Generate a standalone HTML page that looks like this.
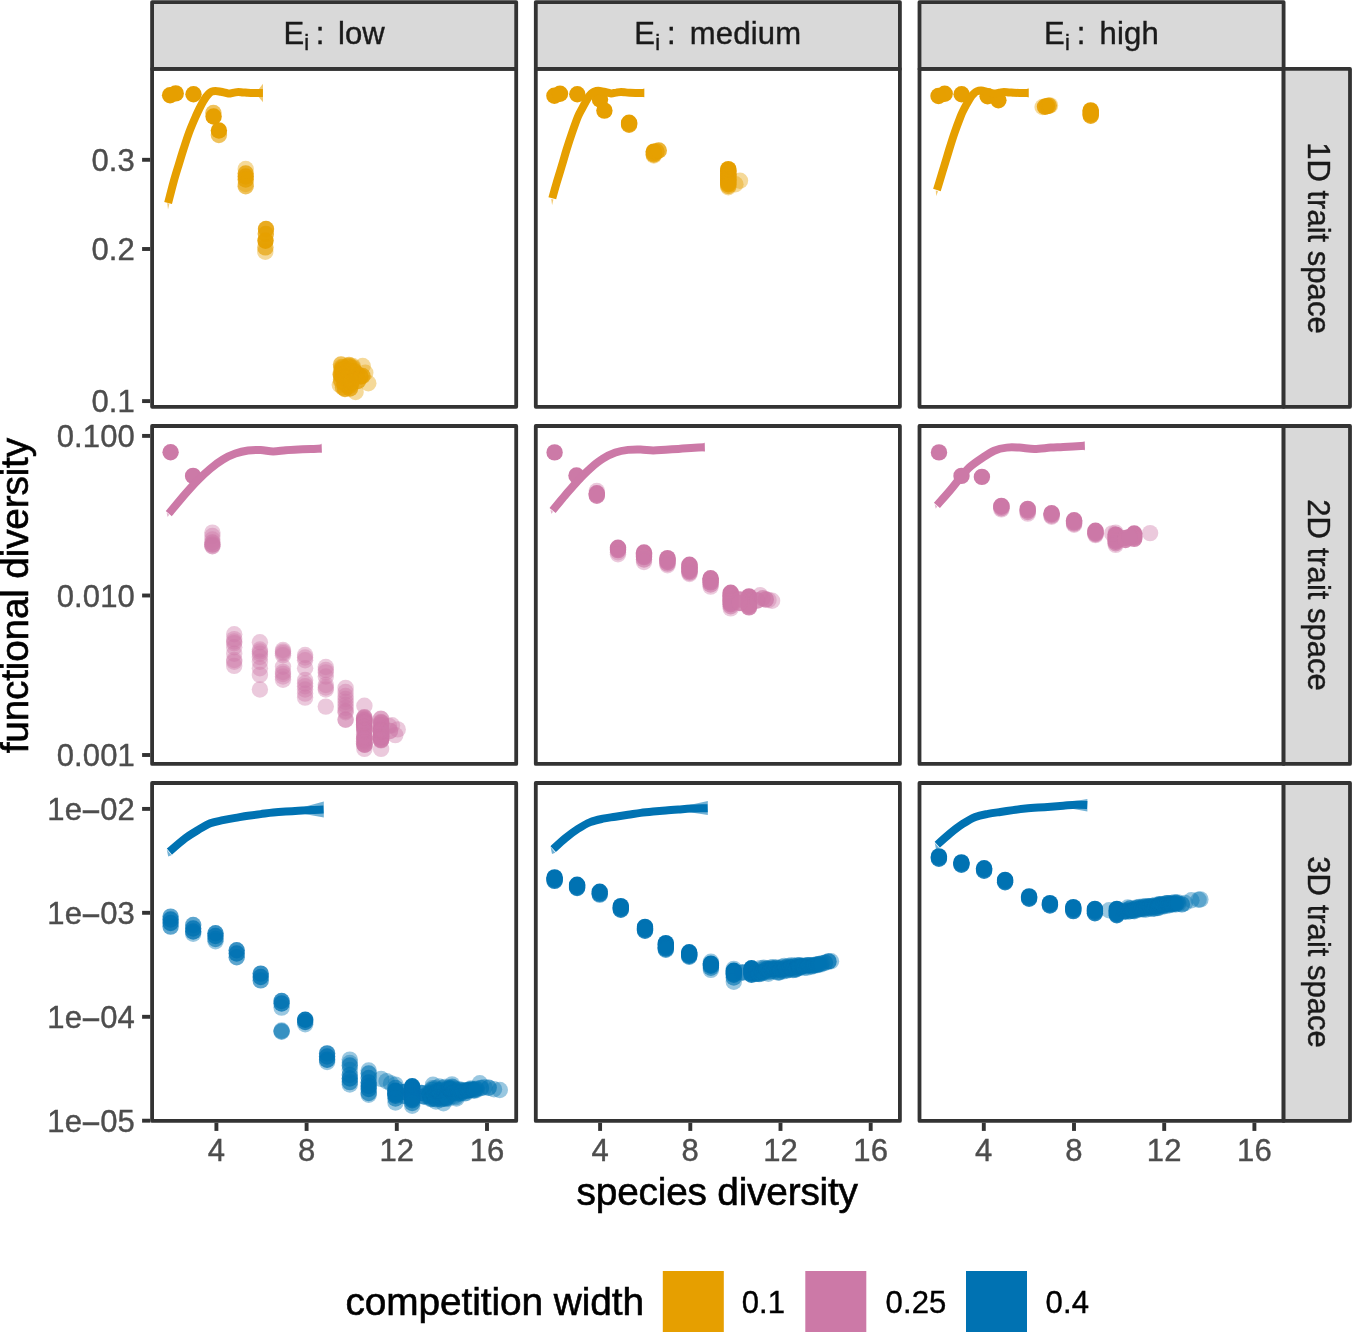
<!DOCTYPE html>
<html lang="en">
<head>
<meta charset="utf-8">
<title>Functional diversity vs species diversity</title>
<style>
html,body{margin:0;padding:0;background:#fff;}
body{width:1352px;height:1332px;overflow:hidden;}
svg{display:block;}
text{font-family:"Liberation Sans", sans-serif;}
</style>
</head>
<body>
<svg width="1352" height="1332" viewBox="0 0 1352 1332" font-family='"Liberation Sans", sans-serif'>
<rect width="1352" height="1332" fill="#fff"/>
<g>
<polygon points="258.5,89.5 263,83.8 263,102.2 258.5,96.7" fill="#E69F00" fill-opacity="0.55"/>
<polygon points="167.2,203 169.4,203.7 168,209.5" fill="#E69F00" fill-opacity="0.55"/>
<g fill="#E69F00" fill-opacity="0.4"><circle cx="170.1" cy="95.3" r="8.2" fill-opacity="0.998"/><circle cx="175.7" cy="93.4" r="8.2" fill-opacity="0.998"/><circle cx="193.5" cy="94.3" r="8.2" fill-opacity="0.998"/><circle cx="213.4" cy="113" r="8.2" fill-opacity="0.640"/><circle cx="213.6" cy="116.5" r="8.2" fill-opacity="0.990"/><circle cx="218.9" cy="130.5" r="8.2" fill-opacity="0.990"/><circle cx="218.9" cy="135" r="8.2" fill-opacity="0.640"/><circle cx="245.7" cy="169" r="8.2"/><circle cx="245.7" cy="173.5" r="8.2" fill-opacity="0.784"/><circle cx="245.7" cy="176.5" r="8.2" fill-opacity="0.870"/><circle cx="245.7" cy="179.5" r="8.2" fill-opacity="0.784"/><circle cx="245.7" cy="184" r="8.2"/><circle cx="245.7" cy="186.2" r="8.2" fill-opacity="0.640"/><circle cx="266" cy="229" r="8.2" fill-opacity="0.870"/><circle cx="265.8" cy="234" r="8.2" fill-opacity="0.784"/><circle cx="265.5" cy="240.8" r="8.2" fill-opacity="0.953"/><circle cx="265.4" cy="247.4" r="8.2" fill-opacity="0.640"/><circle cx="265.3" cy="251.7" r="8.2"/><circle cx="362.7" cy="366" r="8.2"/><circle cx="365.3" cy="372.8" r="8.2"/><circle cx="368.3" cy="383.3" r="8.2"/><circle cx="355.6" cy="392" r="8.2"/><circle cx="339.8" cy="385" r="8.2"/><circle cx="341" cy="364.5" r="8.2" fill-opacity="0.640"/><circle cx="349" cy="365" r="8.2" fill-opacity="0.640"/><circle cx="357" cy="374" r="8.2" fill-opacity="0.870"/><circle cx="360.5" cy="376.5" r="8.2" fill-opacity="0.870"/><circle cx="362.5" cy="376" r="8.2" fill-opacity="0.784"/><circle cx="358" cy="381" r="8.2" fill-opacity="0.784"/><circle cx="354" cy="371" r="8.2" fill-opacity="0.784"/><circle cx="345" cy="389" r="8.2" fill-opacity="0.784"/><circle cx="350" cy="388.5" r="8.2" fill-opacity="0.784"/><circle cx="343" cy="387.5" r="8.2" fill-opacity="0.640"/><circle cx="344.5" cy="368.2" r="8.2"/><circle cx="348.6" cy="366.6" r="8.2"/><circle cx="347.2" cy="372.9" r="8.2"/><circle cx="341.2" cy="375.9" r="8.2"/><circle cx="341" cy="374.3" r="8.2"/><circle cx="341.4" cy="367" r="8.2"/><circle cx="345.8" cy="382.8" r="8.2"/><circle cx="342" cy="369.8" r="8.2"/><circle cx="348.3" cy="385.4" r="8.2"/><circle cx="347.7" cy="373.5" r="8.2"/><circle cx="352.7" cy="366" r="8.2"/><circle cx="351.2" cy="371.2" r="8.2"/><circle cx="342.3" cy="367.5" r="8.2"/><circle cx="344.4" cy="382.5" r="8.2"/><circle cx="342.8" cy="377.5" r="8.2"/><circle cx="348.5" cy="373" r="8.2"/><circle cx="347.3" cy="366.3" r="8.2"/><circle cx="341.2" cy="369.4" r="8.2"/><circle cx="349" cy="374.2" r="8.2"/><circle cx="344.4" cy="377.6" r="8.2"/><circle cx="346.2" cy="371.4" r="8.2"/><circle cx="350.4" cy="380" r="8.2"/><circle cx="343.6" cy="377.4" r="8.2"/><circle cx="347.1" cy="383.8" r="8.2"/><circle cx="349.6" cy="371.2" r="8.2"/><circle cx="352.8" cy="367.5" r="8.2"/><circle cx="345.7" cy="381.3" r="8.2"/><circle cx="342.4" cy="375.5" r="8.2"/><circle cx="341" cy="379.4" r="8.2"/><circle cx="350.1" cy="377.3" r="8.2"/><circle cx="351.4" cy="371.7" r="8.2"/><circle cx="349.2" cy="377.8" r="8.2"/><circle cx="347.7" cy="374.8" r="8.2"/><circle cx="351" cy="385.3" r="8.2"/><circle cx="346.4" cy="379.3" r="8.2"/><circle cx="341.3" cy="380.1" r="8.2"/><circle cx="348.6" cy="386.4" r="8.2"/><circle cx="350.8" cy="371.1" r="8.2"/><circle cx="345.3" cy="379.4" r="8.2"/><circle cx="340.8" cy="374.9" r="8.2"/><circle cx="342.6" cy="367.5" r="8.2"/><circle cx="341.2" cy="381.5" r="8.2"/><circle cx="342.1" cy="370.3" r="8.2"/><circle cx="345.4" cy="383.7" r="8.2"/><circle cx="341.5" cy="374.7" r="8.2"/><circle cx="347.4" cy="384" r="8.2"/><circle cx="350.7" cy="383.6" r="8.2"/><circle cx="344" cy="373.9" r="8.2"/><circle cx="345" cy="384" r="8.2"/><circle cx="352.5" cy="368.2" r="8.2"/><circle cx="342.7" cy="370" r="8.2"/><circle cx="343.4" cy="375.4" r="8.2"/><circle cx="347.9" cy="370.6" r="8.2"/><circle cx="340.6" cy="374" r="8.2"/><circle cx="345.1" cy="377.2" r="8.2"/><circle cx="352.4" cy="379.8" r="8.2"/><circle cx="346.9" cy="378.3" r="8.2"/><circle cx="349" cy="366.2" r="8.2"/><circle cx="351.7" cy="381.8" r="8.2"/><circle cx="351.4" cy="382.2" r="8.2"/></g>
<path d="M168.1 203.1C169 199.7 171.7 188.8 173.4 182.6C175.1 176.4 176.6 171.6 178.3 166.1C180 160.6 181.6 155 183.4 149.5C185.2 144 186.9 138.5 188.9 133C190.9 127.5 193.9 120.6 195.7 116.5C197.5 112.4 198.2 110.8 199.5 108.3C200.8 105.8 202.2 103.2 203.3 101.3C204.4 99.4 205.2 98.2 206.1 96.9C207 95.6 208 94.5 208.9 93.6C209.8 92.7 210.5 92.2 211.6 91.7C212.7 91.2 213.9 90.9 215.5 90.9C217.1 90.9 218.9 91.4 221 91.8C223.1 92.2 226.2 93.2 228.3 93.4C230.4 93.6 231.8 92.9 233.5 92.7C235.2 92.5 236.7 92 238.3 92C239.9 92 241.4 92.3 243 92.4C244.6 92.5 246 92.7 247.7 92.8C249.4 92.9 251.2 93 253 93C254.8 93 257.2 93.1 258.8 93.1C260.4 93.1 262.2 93.1 262.9 93.1" fill="none" stroke="#E69F00" stroke-width="8.0" stroke-linejoin="round"/>
<rect x="152.1" y="68.9" width="364.1" height="337.9" fill="none" stroke="#333333" stroke-width="3.8" stroke-linejoin="round"/>
</g>
<g>
<polygon points="642,89.4 644.3,88 644.3,97.4 642,96.6" fill="#E69F00" fill-opacity="0.55"/>
<polygon points="551.2,198.9 553.4,199.6 552.1,205.3" fill="#E69F00" fill-opacity="0.55"/>
<g fill="#E69F00" fill-opacity="0.4"><circle cx="554.4" cy="95.7" r="8.2" fill-opacity="0.998"/><circle cx="560" cy="93.8" r="8.2" fill-opacity="0.998"/><circle cx="577.3" cy="94.3" r="8.2" fill-opacity="0.998"/><circle cx="600" cy="99.4" r="8.2" fill-opacity="0.998"/><circle cx="604.4" cy="110.6" r="8.2" fill-opacity="0.998"/><circle cx="629.1" cy="122.7" r="8.2" fill-opacity="0.983"/><circle cx="629.1" cy="123.7" r="8.2" fill-opacity="0.870"/><circle cx="629.1" cy="124.7" r="8.2" fill-opacity="0.870"/><circle cx="653.8" cy="151.6" r="8.2" fill-opacity="0.972"/><circle cx="653.8" cy="153.1" r="8.2" fill-opacity="0.784"/><circle cx="653.8" cy="154.5" r="8.2" fill-opacity="0.784"/><circle cx="653.8" cy="155.5" r="8.2"/><circle cx="656.5" cy="151.5" r="8.2" fill-opacity="0.784"/><circle cx="658.8" cy="150.5" r="8.2" fill-opacity="0.784"/><circle cx="728.3" cy="169.1" r="8.2" fill-opacity="0.983"/><circle cx="728.3" cy="170.4" r="8.2" fill-opacity="0.870"/><circle cx="728.3" cy="171.6" r="8.2" fill-opacity="0.870"/><circle cx="728.3" cy="172.9" r="8.2" fill-opacity="0.870"/><circle cx="728.3" cy="174.2" r="8.2" fill-opacity="0.870"/><circle cx="728.3" cy="175.4" r="8.2" fill-opacity="0.870"/><circle cx="728.3" cy="176.7" r="8.2" fill-opacity="0.870"/><circle cx="728.3" cy="178" r="8.2" fill-opacity="0.870"/><circle cx="728.3" cy="179.2" r="8.2" fill-opacity="0.870"/><circle cx="728.3" cy="180.5" r="8.2" fill-opacity="0.870"/><circle cx="728.3" cy="181.8" r="8.2" fill-opacity="0.870"/><circle cx="728.3" cy="183" r="8.2" fill-opacity="0.870"/><circle cx="728.3" cy="184.3" r="8.2" fill-opacity="0.870"/><circle cx="728.3" cy="186" r="8.2" fill-opacity="0.640"/><circle cx="728.3" cy="187.3" r="8.2"/><circle cx="740" cy="180.7" r="8.2"/><circle cx="735.4" cy="184.3" r="8.2"/></g>
<path d="M552.3 198.3C553 195.7 555.1 188 556.7 182.6C558.3 177.2 560.1 171.6 561.7 166.1C563.4 160.6 564.9 155 566.6 149.5C568.3 144 570.1 138.5 572 133C573.9 127.5 576.3 120.6 578 116.5C579.7 112.4 580.9 110.8 582.2 108.3C583.5 105.8 584.9 103.2 586 101.2C587.1 99.2 587.9 97.9 588.8 96.6C589.7 95.3 590.5 94.4 591.4 93.6C592.3 92.8 593.1 92.1 594.2 91.6C595.4 91.1 596.7 90.8 598.3 90.8C599.9 90.8 601.9 91.4 604 91.8C606.1 92.2 609.1 93.3 611.1 93.4C613.1 93.5 614.6 92.8 616.3 92.6C617.9 92.3 619.5 91.9 621 91.9C622.5 91.9 624 92.2 625.5 92.4C627 92.6 628.2 92.7 629.9 92.8C631.6 92.9 633.6 92.9 635.5 92.9C637.4 92.9 639.5 93 641 93C642.5 93 643.7 93 644.2 93" fill="none" stroke="#E69F00" stroke-width="8.0" stroke-linejoin="round"/>
<rect x="535.8" y="68.9" width="364.1" height="337.9" fill="none" stroke="#333333" stroke-width="3.8" stroke-linejoin="round"/>
</g>
<g>
<polygon points="1026,89.4 1028.7,87.7 1028.7,97.7 1026,96.6" fill="#E69F00" fill-opacity="0.55"/>
<polygon points="935.8,190.6 938,191.3 936.2,196.3" fill="#E69F00" fill-opacity="0.55"/>
<g fill="#E69F00" fill-opacity="0.4"><circle cx="938.5" cy="96" r="8.2" fill-opacity="0.998"/><circle cx="944.7" cy="93.8" r="8.2" fill-opacity="0.998"/><circle cx="961.6" cy="94.3" r="8.2" fill-opacity="0.998"/><circle cx="987.6" cy="96.2" r="8.2" fill-opacity="0.998"/><circle cx="998.4" cy="100.2" r="8.2" fill-opacity="0.998"/><circle cx="1042.6" cy="107" r="8.2"/><circle cx="1045" cy="106.7" r="8.2" fill-opacity="0.922"/><circle cx="1047" cy="106.1" r="8.2" fill-opacity="0.922"/><circle cx="1048.8" cy="105.6" r="8.2" fill-opacity="0.784"/><circle cx="1050" cy="105.4" r="8.2"/><circle cx="1090.7" cy="110.4" r="8.2" fill-opacity="0.983"/><circle cx="1090.7" cy="111.8" r="8.2" fill-opacity="0.870"/><circle cx="1090.7" cy="113.1" r="8.2" fill-opacity="0.870"/><circle cx="1090.7" cy="114.5" r="8.2" fill-opacity="0.870"/><circle cx="1090.7" cy="115.8" r="8.2" fill-opacity="0.870"/></g>
<path d="M936.9 190C937.3 188.8 938 186.6 939.2 182.6C940.4 178.6 942.5 171.6 944.2 166.1C945.9 160.6 947.5 155 949.2 149.5C950.9 144 952.6 138.5 954.5 133C956.4 127.5 959 120.6 960.6 116.5C962.2 112.4 963.1 110.9 964.4 108.3C965.7 105.7 967.3 103 968.5 101C969.7 99 970.5 97.6 971.4 96.3C972.3 95 973.1 94.2 974 93.4C974.9 92.6 975.6 91.9 976.8 91.4C978 90.9 979.5 90.5 981.2 90.6C982.9 90.7 984.9 91.4 987 91.9C989.1 92.4 991.9 93.4 993.9 93.5C995.9 93.6 997.3 93 999 92.7C1000.7 92.5 1002.2 92 1003.9 92C1005.6 92 1007.3 92.3 1009 92.4C1010.7 92.5 1012.1 92.7 1013.9 92.8C1015.6 92.9 1017.6 92.9 1019.5 92.9C1021.4 92.9 1023.5 93 1025 93C1026.5 93 1028 93 1028.6 93" fill="none" stroke="#E69F00" stroke-width="8.0" stroke-linejoin="round"/>
<rect x="919.5" y="68.9" width="364.1" height="337.9" fill="none" stroke="#333333" stroke-width="3.8" stroke-linejoin="round"/>
</g>
<g>
<polygon points="319.5,445 321.8,443.4 321.8,453 319.5,452.2" fill="#CC79A7" fill-opacity="0.55"/>
<polygon points="166.6,512.5 169.2,514.8 167.6,517" fill="#CC79A7" fill-opacity="0.55"/>
<g fill="#CC79A7" fill-opacity="0.4"><circle cx="170.6" cy="452.3" r="8.2" fill-opacity="0.998"/><circle cx="193.1" cy="475.9" r="8.2" fill-opacity="0.998"/><circle cx="212.4" cy="532.6" r="8.2"/><circle cx="212.4" cy="536" r="8.2"/><circle cx="212.4" cy="539.5" r="8.2"/><circle cx="212.4" cy="542.5" r="8.2" fill-opacity="0.640"/><circle cx="212.4" cy="544.6" r="8.2" fill-opacity="0.784"/><circle cx="212.4" cy="546.3" r="8.2" fill-opacity="0.640"/><circle cx="234.2" cy="634.2" r="8.2"/><circle cx="234.2" cy="639.1" r="8.2"/><circle cx="234.2" cy="641.5" r="8.2"/><circle cx="234.2" cy="643.1" r="8.2"/><circle cx="234.2" cy="647.2" r="8.2"/><circle cx="234.2" cy="653.7" r="8.2"/><circle cx="234.2" cy="660" r="8.2"/><circle cx="234.2" cy="661.8" r="8.2"/><circle cx="234.2" cy="665.9" r="8.2"/><circle cx="259.9" cy="642.3" r="8.2"/><circle cx="259.9" cy="649.5" r="8.2"/><circle cx="259.9" cy="651.5" r="8.2"/><circle cx="259.9" cy="653.7" r="8.2"/><circle cx="259.9" cy="657" r="8.2"/><circle cx="259.9" cy="661.8" r="8.2"/><circle cx="259.9" cy="668.3" r="8.2"/><circle cx="259.9" cy="674.9" r="8.2"/><circle cx="259.9" cy="689.5" r="8.2"/><circle cx="283" cy="650" r="8.2"/><circle cx="283" cy="651.6" r="8.2"/><circle cx="283" cy="653.2" r="8.2"/><circle cx="283" cy="655.2" r="8.2"/><circle cx="283" cy="666.7" r="8.2"/><circle cx="283" cy="672" r="8.2"/><circle cx="283" cy="674" r="8.2"/><circle cx="283" cy="676.5" r="8.2"/><circle cx="283" cy="679.7" r="8.2"/><circle cx="305.1" cy="655" r="8.2"/><circle cx="305.1" cy="657.5" r="8.2"/><circle cx="305.1" cy="660.2" r="8.2"/><circle cx="305.1" cy="668.3" r="8.2"/><circle cx="305.1" cy="680" r="8.2"/><circle cx="305.1" cy="683.5" r="8.2"/><circle cx="305.1" cy="686.2" r="8.2"/><circle cx="305.1" cy="689.5" r="8.2"/><circle cx="305.1" cy="693.6" r="8.2"/><circle cx="305.1" cy="697.6" r="8.2"/><circle cx="325.8" cy="667" r="8.2"/><circle cx="325.8" cy="670" r="8.2"/><circle cx="325.8" cy="672.4" r="8.2"/><circle cx="325.8" cy="676.5" r="8.2"/><circle cx="325.8" cy="685" r="8.2"/><circle cx="325.8" cy="687.5" r="8.2"/><circle cx="325.8" cy="689.5" r="8.2"/><circle cx="325.8" cy="706.6" r="8.2"/><circle cx="345.6" cy="687.9" r="8.2"/><circle cx="345.6" cy="692" r="8.2"/><circle cx="345.6" cy="696" r="8.2"/><circle cx="345.6" cy="699" r="8.2"/><circle cx="345.6" cy="702" r="8.2"/><circle cx="345.6" cy="705" r="8.2"/><circle cx="345.6" cy="708" r="8.2"/><circle cx="345.6" cy="711" r="8.2"/><circle cx="345.6" cy="712.3" r="8.2"/><circle cx="345.6" cy="719.6" r="8.2"/><circle cx="345.6" cy="719.8" r="8.2"/><circle cx="364.4" cy="705.8" r="8.2"/><circle cx="364.4" cy="748.9" r="8.2"/><circle cx="364.3" cy="727.9" r="8.2"/><circle cx="364.1" cy="734.6" r="8.2"/><circle cx="364" cy="718.4" r="8.2"/><circle cx="364.2" cy="721.1" r="8.2"/><circle cx="364.3" cy="718" r="8.2"/><circle cx="364" cy="720.8" r="8.2"/><circle cx="364.1" cy="726.9" r="8.2"/><circle cx="364" cy="741.4" r="8.2"/><circle cx="364.5" cy="720.7" r="8.2"/><circle cx="364.2" cy="726.4" r="8.2"/><circle cx="364.3" cy="720" r="8.2"/><circle cx="364.7" cy="744.8" r="8.2"/><circle cx="364.4" cy="730.3" r="8.2"/><circle cx="364.1" cy="719.4" r="8.2"/><circle cx="364.3" cy="724" r="8.2"/><circle cx="364.7" cy="721.1" r="8.2"/><circle cx="364" cy="743.6" r="8.2"/><circle cx="364.4" cy="720.7" r="8.2"/><circle cx="364.4" cy="717.3" r="8.2"/><circle cx="364.4" cy="744.4" r="8.2"/><circle cx="364.7" cy="736.3" r="8.2"/><circle cx="364.2" cy="727" r="8.2"/><circle cx="364.1" cy="738.5" r="8.2"/><circle cx="364.4" cy="738.7" r="8.2"/><circle cx="364.3" cy="722.9" r="8.2"/><circle cx="364.6" cy="744.6" r="8.2"/><circle cx="364.7" cy="739.5" r="8.2"/><circle cx="364.7" cy="737.6" r="8.2"/><circle cx="364.2" cy="731.3" r="8.2"/><circle cx="364.3" cy="717.3" r="8.2"/><circle cx="364" cy="724.5" r="8.2"/><circle cx="364.2" cy="736.2" r="8.2"/><circle cx="364.8" cy="729.2" r="8.2"/><circle cx="364.7" cy="744.7" r="8.2"/><circle cx="364.8" cy="726.9" r="8.2"/><circle cx="364.2" cy="723" r="8.2"/><circle cx="364.2" cy="722.3" r="8.2"/><circle cx="364.5" cy="742.2" r="8.2"/><circle cx="364.7" cy="730.2" r="8.2"/><circle cx="364.5" cy="739.3" r="8.2"/><circle cx="381.1" cy="748.9" r="8.2"/><circle cx="380.8" cy="733.8" r="8.2"/><circle cx="381.4" cy="736.6" r="8.2"/><circle cx="381.3" cy="729.5" r="8.2"/><circle cx="380.8" cy="736.7" r="8.2"/><circle cx="381" cy="737" r="8.2"/><circle cx="381.5" cy="727.6" r="8.2"/><circle cx="381" cy="740.4" r="8.2"/><circle cx="381.3" cy="722.4" r="8.2"/><circle cx="380.8" cy="722" r="8.2"/><circle cx="381.4" cy="737.1" r="8.2"/><circle cx="380.8" cy="737.6" r="8.2"/><circle cx="381.5" cy="733.7" r="8.2"/><circle cx="381" cy="731.2" r="8.2"/><circle cx="380.8" cy="718.8" r="8.2"/><circle cx="381.5" cy="733.5" r="8.2"/><circle cx="381.1" cy="740.1" r="8.2"/><circle cx="381" cy="738.6" r="8.2"/><circle cx="381.4" cy="723.4" r="8.2"/><circle cx="380.9" cy="725.3" r="8.2"/><circle cx="380.9" cy="732" r="8.2"/><circle cx="380.9" cy="728.2" r="8.2"/><circle cx="380.8" cy="739.5" r="8.2"/><circle cx="381" cy="729.1" r="8.2"/><circle cx="381.2" cy="739.4" r="8.2"/><circle cx="381" cy="739.7" r="8.2"/><circle cx="381.1" cy="730.8" r="8.2"/><circle cx="381.1" cy="718.9" r="8.2"/><circle cx="381.1" cy="722.7" r="8.2"/><circle cx="380.7" cy="737" r="8.2"/><circle cx="380.8" cy="729.4" r="8.2"/><circle cx="381.3" cy="731.4" r="8.2"/><circle cx="381" cy="730.5" r="8.2"/><circle cx="381.1" cy="736.6" r="8.2"/><circle cx="380.8" cy="731.4" r="8.2"/><circle cx="380.9" cy="724.9" r="8.2"/><circle cx="381.3" cy="730.2" r="8.2"/><circle cx="389" cy="726" r="8.2"/><circle cx="392" cy="725.3" r="8.2"/><circle cx="397.7" cy="729.4" r="8.2"/><circle cx="395.3" cy="735.1" r="8.2"/><circle cx="390" cy="731" r="8.2" fill-opacity="0.640"/></g>
<path d="M168.8 513.6C171.5 510.4 180.3 499.7 185.1 494.1C189.9 488.6 193.5 484.5 197.7 480.3C201.9 476.1 206.1 472.2 210.3 468.7C214.5 465.2 218.7 462 222.9 459.5C227.1 457 231.2 455.1 235.4 453.6C239.6 452.1 243.8 451.1 248 450.5C252.2 449.9 256.4 450 260.6 450.1C264.8 450.2 269 451.4 273.2 451.4C277.4 451.4 281.5 450.5 285.7 450.2C289.9 449.9 294.1 449.7 298.3 449.5C302.5 449.3 307 449.1 310.9 448.9C314.8 448.7 319.8 448.6 321.6 448.5" fill="none" stroke="#CC79A7" stroke-width="8.0" stroke-linejoin="round"/>
<rect x="152.1" y="426" width="364.1" height="337.9" fill="none" stroke="#333333" stroke-width="3.8" stroke-linejoin="round"/>
</g>
<g>
<polygon points="702.5,443.7 704.9,442.6 704.9,451.8 702.5,450.9" fill="#CC79A7" fill-opacity="0.55"/>
<polygon points="550.4,509.4 553,511.7 551.4,513.9" fill="#CC79A7" fill-opacity="0.55"/>
<g fill="#CC79A7" fill-opacity="0.4"><circle cx="554.6" cy="452.4" r="8.2" fill-opacity="0.998"/><circle cx="576.5" cy="475.5" r="8.2" fill-opacity="0.998"/><circle cx="596.8" cy="491" r="8.2"/><circle cx="596.8" cy="493.3" r="8.2" fill-opacity="0.983"/><circle cx="596.8" cy="494.6" r="8.2" fill-opacity="0.870"/><circle cx="596.8" cy="495.8" r="8.2" fill-opacity="0.870"/><circle cx="618" cy="547.8" r="8.2" fill-opacity="0.983"/><circle cx="618" cy="549" r="8.2" fill-opacity="0.870"/><circle cx="618" cy="550.1" r="8.2" fill-opacity="0.870"/><circle cx="618" cy="552.3" r="8.2"/><circle cx="618" cy="554.3" r="8.2"/><circle cx="644" cy="552.5" r="8.2" fill-opacity="0.983"/><circle cx="644" cy="553.6" r="8.2" fill-opacity="0.870"/><circle cx="644" cy="554.8" r="8.2" fill-opacity="0.870"/><circle cx="644" cy="556" r="8.2" fill-opacity="0.870"/><circle cx="644" cy="557.1" r="8.2" fill-opacity="0.870"/><circle cx="644" cy="559.5" r="8.2" fill-opacity="0.640"/><circle cx="644" cy="562" r="8.2"/><circle cx="667.5" cy="558.1" r="8.2" fill-opacity="0.983"/><circle cx="667.5" cy="559.4" r="8.2" fill-opacity="0.870"/><circle cx="667.5" cy="560.7" r="8.2" fill-opacity="0.870"/><circle cx="667.5" cy="562" r="8.2" fill-opacity="0.870"/><circle cx="667.5" cy="563.6" r="8.2" fill-opacity="0.640"/><circle cx="667.5" cy="565.3" r="8.2"/><circle cx="689.5" cy="564.7" r="8.2" fill-opacity="0.983"/><circle cx="689.5" cy="566" r="8.2" fill-opacity="0.870"/><circle cx="689.5" cy="567.3" r="8.2" fill-opacity="0.870"/><circle cx="689.5" cy="568.6" r="8.2" fill-opacity="0.870"/><circle cx="689.5" cy="569.9" r="8.2" fill-opacity="0.870"/><circle cx="689.5" cy="571.2" r="8.2" fill-opacity="0.870"/><circle cx="689.5" cy="572.6" r="8.2" fill-opacity="0.640"/><circle cx="689.5" cy="574" r="8.2"/><circle cx="710.6" cy="578.2" r="8.2" fill-opacity="0.983"/><circle cx="710.6" cy="579.6" r="8.2" fill-opacity="0.870"/><circle cx="710.6" cy="581" r="8.2" fill-opacity="0.870"/><circle cx="710.6" cy="582.4" r="8.2" fill-opacity="0.870"/><circle cx="710.6" cy="584.5" r="8.2" fill-opacity="0.640"/><circle cx="710.6" cy="586.6" r="8.2"/><circle cx="730.7" cy="592.8" r="8.2" fill-opacity="0.983"/><circle cx="730.7" cy="594.1" r="8.2" fill-opacity="0.870"/><circle cx="730.7" cy="595.3" r="8.2" fill-opacity="0.870"/><circle cx="730.7" cy="596.6" r="8.2" fill-opacity="0.870"/><circle cx="730.7" cy="597.9" r="8.2" fill-opacity="0.870"/><circle cx="730.7" cy="599.1" r="8.2" fill-opacity="0.870"/><circle cx="730.7" cy="600.4" r="8.2" fill-opacity="0.870"/><circle cx="730.7" cy="601.7" r="8.2" fill-opacity="0.870"/><circle cx="730.7" cy="602.9" r="8.2" fill-opacity="0.870"/><circle cx="730.7" cy="604.2" r="8.2" fill-opacity="0.870"/><circle cx="730.7" cy="606.2" r="8.2" fill-opacity="0.640"/><circle cx="730.7" cy="608.4" r="8.2"/><circle cx="749" cy="596.4" r="8.2" fill-opacity="0.983"/><circle cx="749" cy="597.8" r="8.2" fill-opacity="0.870"/><circle cx="749" cy="599.1" r="8.2" fill-opacity="0.870"/><circle cx="749" cy="600.5" r="8.2" fill-opacity="0.870"/><circle cx="749" cy="601.9" r="8.2" fill-opacity="0.870"/><circle cx="749" cy="603.3" r="8.2" fill-opacity="0.870"/><circle cx="749" cy="604.6" r="8.2" fill-opacity="0.870"/><circle cx="749" cy="606" r="8.2" fill-opacity="0.870"/><circle cx="749" cy="607.4" r="8.2" fill-opacity="0.870"/><circle cx="739.8" cy="599.5" r="8.2" fill-opacity="0.870"/><circle cx="739.8" cy="603" r="8.2" fill-opacity="0.870"/><circle cx="757.5" cy="600.5" r="8.2" fill-opacity="0.784"/><circle cx="760.2" cy="595.2" r="8.2"/><circle cx="762.8" cy="598.2" r="8.2" fill-opacity="0.640"/><circle cx="765.8" cy="599.4" r="8.2" fill-opacity="0.784"/><circle cx="768.5" cy="600" r="8.2"/><circle cx="772.1" cy="600.8" r="8.2"/></g>
<path d="M552.6 510.5C554.7 508 560.9 500.3 565.1 495.4C569.3 490.5 573.5 485.4 577.7 480.9C581.9 476.4 586.1 472.1 590.3 468.4C594.5 464.7 598.7 461.3 602.9 458.7C607.1 456.1 611.2 454.1 615.4 452.6C619.6 451.1 623.8 450.4 628 449.9C632.2 449.4 636.4 449.4 640.6 449.5C644.8 449.6 649 450.4 653.2 450.4C657.4 450.4 661.5 449.9 665.7 449.7C669.9 449.4 674.1 449.2 678.3 448.9C682.5 448.6 686.5 448.3 690.9 448C695.3 447.7 702.4 447.3 704.7 447.2" fill="none" stroke="#CC79A7" stroke-width="8.0" stroke-linejoin="round"/>
<rect x="535.8" y="426" width="364.1" height="337.9" fill="none" stroke="#333333" stroke-width="3.8" stroke-linejoin="round"/>
</g>
<g>
<polygon points="1082,442.3 1084.9,441.2 1084.9,450.4 1082,449.5" fill="#CC79A7" fill-opacity="0.55"/>
<polygon points="934.7,504.3 937.3,506.6 935.7,508.8" fill="#CC79A7" fill-opacity="0.55"/>
<g fill="#CC79A7" fill-opacity="0.4"><circle cx="939" cy="452.4" r="8.2" fill-opacity="0.998"/><circle cx="961.5" cy="475.9" r="8.2" fill-opacity="0.998"/><circle cx="981.9" cy="476.9" r="8.2" fill-opacity="0.998"/><circle cx="1001.4" cy="505.9" r="8.2" fill-opacity="0.983"/><circle cx="1001.4" cy="506.8" r="8.2" fill-opacity="0.870"/><circle cx="1001.4" cy="508.2" r="8.2" fill-opacity="0.640"/><circle cx="1001.4" cy="509.4" r="8.2"/><circle cx="1027.7" cy="508.9" r="8.2" fill-opacity="0.983"/><circle cx="1027.7" cy="510.4" r="8.2" fill-opacity="0.870"/><circle cx="1027.7" cy="512" r="8.2" fill-opacity="0.640"/><circle cx="1027.7" cy="513.6" r="8.2"/><circle cx="1051.6" cy="513.2" r="8.2" fill-opacity="0.983"/><circle cx="1051.6" cy="514.3" r="8.2" fill-opacity="0.870"/><circle cx="1051.6" cy="515.6" r="8.2" fill-opacity="0.640"/><circle cx="1051.6" cy="516.8" r="8.2"/><circle cx="1074.1" cy="520.2" r="8.2" fill-opacity="0.983"/><circle cx="1074.1" cy="521.3" r="8.2" fill-opacity="0.870"/><circle cx="1074.1" cy="522.4" r="8.2" fill-opacity="0.870"/><circle cx="1074.1" cy="523.6" r="8.2" fill-opacity="0.640"/><circle cx="1074.1" cy="524.8" r="8.2"/><circle cx="1095.5" cy="530.7" r="8.2" fill-opacity="0.983"/><circle cx="1095.5" cy="532" r="8.2" fill-opacity="0.870"/><circle cx="1095.5" cy="533.3" r="8.2" fill-opacity="0.870"/><circle cx="1095.5" cy="534.2" r="8.2" fill-opacity="0.640"/><circle cx="1095.5" cy="535.1" r="8.2"/><circle cx="1115.7" cy="534.6" r="8.2" fill-opacity="0.983"/><circle cx="1115.7" cy="536" r="8.2" fill-opacity="0.870"/><circle cx="1115.7" cy="537.4" r="8.2" fill-opacity="0.870"/><circle cx="1115.7" cy="538.9" r="8.2" fill-opacity="0.870"/><circle cx="1115.7" cy="540.3" r="8.2" fill-opacity="0.870"/><circle cx="1115.7" cy="541.7" r="8.2" fill-opacity="0.870"/><circle cx="1115.7" cy="532.8" r="8.2"/><circle cx="1115.7" cy="543.3" r="8.2" fill-opacity="0.640"/><circle cx="1115.7" cy="544.9" r="8.2"/><circle cx="1134.2" cy="533.5" r="8.2" fill-opacity="0.983"/><circle cx="1134.2" cy="534.9" r="8.2" fill-opacity="0.870"/><circle cx="1134.2" cy="536.2" r="8.2" fill-opacity="0.870"/><circle cx="1134.2" cy="537.5" r="8.2" fill-opacity="0.870"/><circle cx="1134.2" cy="538.9" r="8.2" fill-opacity="0.870"/><circle cx="1112.2" cy="533.4" r="8.2"/><circle cx="1125.5" cy="538" r="8.2" fill-opacity="0.922"/><circle cx="1125.5" cy="540" r="8.2" fill-opacity="0.870"/><circle cx="1129.5" cy="537" r="8.2" fill-opacity="0.784"/><circle cx="1150.1" cy="533.1" r="8.2"/></g>
<path d="M936.9 505.4C939.1 502.9 946.3 494.9 950.1 490.4C953.9 485.9 956.4 482.4 959.5 478.6C962.6 474.8 965.3 471.1 969 467.7C972.7 464.3 977.4 461.1 981.6 458.3C985.8 455.5 990 452.5 994.2 450.7C998.4 448.9 1002.5 448.1 1006.7 447.6C1010.9 447.1 1014.7 447.4 1019.3 447.6C1023.9 447.8 1029.2 448.9 1034.4 448.9C1039.6 448.9 1045.9 447.9 1050.7 447.6C1055.5 447.3 1057.6 447.3 1063.3 447C1069 446.7 1081.1 445.9 1084.7 445.7" fill="none" stroke="#CC79A7" stroke-width="8.0" stroke-linejoin="round"/>
<rect x="919.5" y="426" width="364.1" height="337.9" fill="none" stroke="#333333" stroke-width="3.8" stroke-linejoin="round"/>
</g>
<g>
<polygon points="304.5,806.7 323.8,801.6 323.8,817.4 304.5,813.9" fill="#0072B2" fill-opacity="0.55"/>
<polygon points="166.8,849.6 171.5,855.2 168.2,856.4" fill="#0072B2" fill-opacity="0.55"/>
<g fill="#0072B2" fill-opacity="0.4"><circle cx="170.6" cy="916.6" r="8.2" fill-opacity="0.640"/><circle cx="170.6" cy="919.5" r="8.2" fill-opacity="0.784"/><circle cx="170.6" cy="923" r="8.2" fill-opacity="0.784"/><circle cx="170.6" cy="926.6" r="8.2" fill-opacity="0.640"/><circle cx="193.2" cy="925" r="8.2" fill-opacity="0.640"/><circle cx="193.2" cy="928.5" r="8.2" fill-opacity="0.784"/><circle cx="193.2" cy="931.5" r="8.2" fill-opacity="0.784"/><circle cx="193.2" cy="933.8" r="8.2"/><circle cx="215.5" cy="933.3" r="8.2" fill-opacity="0.784"/><circle cx="215.5" cy="936" r="8.2" fill-opacity="0.784"/><circle cx="215.5" cy="939" r="8.2" fill-opacity="0.640"/><circle cx="215.5" cy="941.2" r="8.2"/><circle cx="236.7" cy="950.2" r="8.2" fill-opacity="0.784"/><circle cx="236.7" cy="953.5" r="8.2" fill-opacity="0.784"/><circle cx="236.7" cy="957.2" r="8.2" fill-opacity="0.640"/><circle cx="260.7" cy="973.6" r="8.2" fill-opacity="0.784"/><circle cx="260.7" cy="977" r="8.2" fill-opacity="0.784"/><circle cx="260.7" cy="980.4" r="8.2" fill-opacity="0.640"/><circle cx="281.6" cy="1001" r="8.2" fill-opacity="0.784"/><circle cx="281.6" cy="1003.5" r="8.2" fill-opacity="0.784"/><circle cx="281.6" cy="1007.6" r="8.2"/><circle cx="281.6" cy="1030.5" r="8.2"/><circle cx="281.6" cy="1031.2" r="8.2"/><circle cx="281.6" cy="1031.8" r="8.2"/><circle cx="305.2" cy="1019.8" r="8.2" fill-opacity="0.953"/><circle cx="305.2" cy="1022" r="8.2" fill-opacity="0.784"/><circle cx="305.2" cy="1024.2" r="8.2"/><circle cx="327.1" cy="1053.4" r="8.2" fill-opacity="0.784"/><circle cx="327.1" cy="1056.5" r="8.2" fill-opacity="0.784"/><circle cx="327.1" cy="1059.8" r="8.2" fill-opacity="0.784"/><circle cx="327.1" cy="1062" r="8.2"/><circle cx="349.8" cy="1059.6" r="8.2"/><circle cx="349.8" cy="1063" r="8.2"/><circle cx="349.8" cy="1065.5" r="8.2" fill-opacity="0.640"/><circle cx="349.8" cy="1070" r="8.2"/><circle cx="349.8" cy="1075" r="8.2" fill-opacity="0.640"/><circle cx="349.8" cy="1078.5" r="8.2" fill-opacity="0.784"/><circle cx="349.8" cy="1082.1" r="8.2" fill-opacity="0.640"/><circle cx="349.8" cy="1084.5" r="8.2"/><circle cx="368.7" cy="1070.5" r="8.2"/><circle cx="368.7" cy="1073.5" r="8.2" fill-opacity="0.640"/><circle cx="368.7" cy="1078" r="8.2" fill-opacity="0.640"/><circle cx="368.7" cy="1082.5" r="8.2" fill-opacity="0.784"/><circle cx="368.7" cy="1086" r="8.2" fill-opacity="0.784"/><circle cx="368.7" cy="1089" r="8.2" fill-opacity="0.784"/><circle cx="368.7" cy="1093" r="8.2" fill-opacity="0.640"/><circle cx="368.7" cy="1094.8" r="8.2"/><circle cx="381.1" cy="1078.9" r="8.2"/><circle cx="386.6" cy="1081.1" r="8.2"/><circle cx="391" cy="1083.5" r="8.2"/><circle cx="479.8" cy="1083.3" r="8.2"/><circle cx="481" cy="1088" r="8.2" fill-opacity="0.640"/><circle cx="484.5" cy="1087.2" r="8.2"/><circle cx="488.7" cy="1087.7" r="8.2" fill-opacity="0.640"/><circle cx="494" cy="1089.3" r="8.2"/><circle cx="499.8" cy="1090" r="8.2"/><circle cx="404" cy="1092" r="8.2" fill-opacity="0.784"/><circle cx="404" cy="1096" r="8.2" fill-opacity="0.640"/><circle cx="421.5" cy="1093" r="8.2" fill-opacity="0.784"/><circle cx="424" cy="1096.5" r="8.2" fill-opacity="0.784"/><circle cx="433" cy="1084.8" r="8.2"/><circle cx="452" cy="1084.4" r="8.2"/><circle cx="443.5" cy="1103.2" r="8.2"/><circle cx="436" cy="1101.5" r="8.2"/><circle cx="456.5" cy="1098.5" r="8.2"/><circle cx="395.5" cy="1090.7" r="8.2" fill-opacity="0.972"/><circle cx="395.5" cy="1092" r="8.2" fill-opacity="0.784"/><circle cx="395.5" cy="1093.2" r="8.2" fill-opacity="0.784"/><circle cx="395.5" cy="1094.5" r="8.2" fill-opacity="0.784"/><circle cx="395.5" cy="1095.8" r="8.2" fill-opacity="0.784"/><circle cx="395.5" cy="1084.6" r="8.2"/><circle cx="395.5" cy="1088" r="8.2" fill-opacity="0.640"/><circle cx="395.5" cy="1098.5" r="8.2" fill-opacity="0.640"/><circle cx="395.5" cy="1102.5" r="8.2"/><circle cx="412.2" cy="1086.3" r="8.2" fill-opacity="0.972"/><circle cx="412.2" cy="1087.6" r="8.2" fill-opacity="0.784"/><circle cx="412.2" cy="1088.8" r="8.2" fill-opacity="0.784"/><circle cx="412.2" cy="1090.1" r="8.2" fill-opacity="0.784"/><circle cx="412.2" cy="1091.4" r="8.2" fill-opacity="0.784"/><circle cx="412.2" cy="1092.7" r="8.2" fill-opacity="0.784"/><circle cx="412.2" cy="1093.9" r="8.2" fill-opacity="0.784"/><circle cx="412.2" cy="1095.2" r="8.2" fill-opacity="0.784"/><circle cx="412.2" cy="1096.5" r="8.2" fill-opacity="0.784"/><circle cx="412.2" cy="1097.8" r="8.2" fill-opacity="0.784"/><circle cx="412.2" cy="1099" r="8.2" fill-opacity="0.784"/><circle cx="412.2" cy="1100.3" r="8.2" fill-opacity="0.784"/><circle cx="412.2" cy="1103" r="8.2" fill-opacity="0.640"/><circle cx="412.2" cy="1105.8" r="8.2"/><circle cx="428.3" cy="1096.6" r="8.2"/><circle cx="428.9" cy="1092.4" r="8.2"/><circle cx="429.2" cy="1093.2" r="8.2"/><circle cx="429.6" cy="1095.7" r="8.2"/><circle cx="430.1" cy="1093.6" r="8.2"/><circle cx="430.6" cy="1099" r="8.2"/><circle cx="431.1" cy="1098.1" r="8.2"/><circle cx="431.7" cy="1089.9" r="8.2"/><circle cx="432" cy="1099" r="8.2"/><circle cx="432.6" cy="1088.3" r="8.2"/><circle cx="432.7" cy="1092.3" r="8.2"/><circle cx="433.2" cy="1089.6" r="8.2"/><circle cx="433.6" cy="1095.3" r="8.2"/><circle cx="434.4" cy="1098.3" r="8.2"/><circle cx="434.6" cy="1095.9" r="8.2"/><circle cx="435.3" cy="1088.3" r="8.2"/><circle cx="435.9" cy="1099.3" r="8.2"/><circle cx="436" cy="1099.1" r="8.2"/><circle cx="436.6" cy="1092.8" r="8.2"/><circle cx="437.3" cy="1097.4" r="8.2"/><circle cx="437.4" cy="1092.1" r="8.2"/><circle cx="438" cy="1090.8" r="8.2"/><circle cx="438.4" cy="1090.5" r="8.2"/><circle cx="439.1" cy="1086.5" r="8.2"/><circle cx="439.5" cy="1092.2" r="8.2"/><circle cx="439.7" cy="1090.7" r="8.2"/><circle cx="440.4" cy="1093.1" r="8.2"/><circle cx="440.6" cy="1099.4" r="8.2"/><circle cx="441.4" cy="1099.3" r="8.2"/><circle cx="441.6" cy="1089.8" r="8.2"/><circle cx="442" cy="1096.7" r="8.2"/><circle cx="442.6" cy="1087.9" r="8.2"/><circle cx="443.1" cy="1098.4" r="8.2"/><circle cx="443.8" cy="1089.6" r="8.2"/><circle cx="443.9" cy="1098.5" r="8.2"/><circle cx="444.6" cy="1095.6" r="8.2"/><circle cx="444.8" cy="1086.9" r="8.2"/><circle cx="445.6" cy="1091.8" r="8.2"/><circle cx="445.8" cy="1098.7" r="8.2"/><circle cx="446.5" cy="1096.9" r="8.2"/><circle cx="446.7" cy="1097.6" r="8.2"/><circle cx="447.2" cy="1097.7" r="8.2"/><circle cx="447.8" cy="1090.6" r="8.2"/><circle cx="448.3" cy="1098.6" r="8.2"/><circle cx="448.7" cy="1087.7" r="8.2"/><circle cx="449.2" cy="1089.2" r="8.2"/><circle cx="449.5" cy="1088.1" r="8.2"/><circle cx="450" cy="1088.7" r="8.2"/><circle cx="450.5" cy="1090.1" r="8.2"/><circle cx="451.2" cy="1090" r="8.2"/><circle cx="451.6" cy="1088.7" r="8.2"/><circle cx="452" cy="1086.8" r="8.2"/><circle cx="452.4" cy="1086.9" r="8.2"/><circle cx="453.1" cy="1093.2" r="8.2"/><circle cx="453.3" cy="1092.4" r="8.2"/><circle cx="454.1" cy="1088.5" r="8.2"/><circle cx="454.5" cy="1091.9" r="8.2"/><circle cx="454.8" cy="1096" r="8.2"/><circle cx="455.3" cy="1092.7" r="8.2"/><circle cx="455.9" cy="1097.1" r="8.2"/><circle cx="456.3" cy="1094.2" r="8.2"/><circle cx="457.3" cy="1092.7" r="8.2"/><circle cx="457.8" cy="1090.8" r="8.2"/><circle cx="458.3" cy="1089.4" r="8.2"/><circle cx="459.1" cy="1093.1" r="8.2"/><circle cx="459.9" cy="1089.6" r="8.2"/><circle cx="460.6" cy="1093.5" r="8.2"/><circle cx="461.9" cy="1092.3" r="8.2"/><circle cx="462.2" cy="1089.9" r="8.2"/><circle cx="463" cy="1091" r="8.2"/><circle cx="463.6" cy="1090.9" r="8.2"/><circle cx="464.4" cy="1093.4" r="8.2"/><circle cx="465.7" cy="1091.1" r="8.2"/><circle cx="465.9" cy="1093.1" r="8.2"/><circle cx="466.7" cy="1090.1" r="8.2"/><circle cx="467.3" cy="1090.2" r="8.2"/><circle cx="468.4" cy="1090.6" r="8.2"/><circle cx="468.9" cy="1090.5" r="8.2"/><circle cx="469.5" cy="1089.5" r="8.2"/><circle cx="470.3" cy="1089.9" r="8.2"/><circle cx="471" cy="1088.5" r="8.2"/><circle cx="472" cy="1089.1" r="8.2"/><circle cx="472.9" cy="1090" r="8.2"/><circle cx="473.8" cy="1090.3" r="8.2"/><circle cx="474.5" cy="1090.8" r="8.2"/><circle cx="475" cy="1089.2" r="8.2"/><circle cx="476.2" cy="1088.6" r="8.2"/><circle cx="476.8" cy="1089.8" r="8.2"/></g>
<path d="M169.4 851.6C172 849.4 180.4 842 185.1 838.4C189.8 834.8 193.5 832.7 197.7 830.2C201.9 827.7 206.1 825 210.3 823.3C214.5 821.6 218.7 821.1 222.9 820.2C227.1 819.3 231.2 818.6 235.4 817.9C239.6 817.2 243.8 816.4 248 815.8C252.2 815.2 256.4 814.6 260.6 814.1C264.8 813.6 269 813 273.2 812.6C277.4 812.2 281.5 811.9 285.7 811.6C289.9 811.3 294.1 811 298.3 810.7C302.5 810.4 306.7 810.1 310.9 809.9C315.1 809.7 321.4 809.6 323.5 809.5" fill="none" stroke="#0072B2" stroke-width="8.0" stroke-linejoin="round"/>
<rect x="152.1" y="783" width="364.1" height="337.9" fill="none" stroke="#333333" stroke-width="3.8" stroke-linejoin="round"/>
</g>
<g>
<polygon points="689.6,805.1 707.8,801.1 707.8,815.1 689.6,812.3" fill="#0072B2" fill-opacity="0.55"/>
<polygon points="550.6,847.1 555.3,852.7 552,853.9" fill="#0072B2" fill-opacity="0.55"/>
<g fill="#0072B2" fill-opacity="0.4"><circle cx="554.6" cy="877.4" r="8.2" fill-opacity="0.983"/><circle cx="554.6" cy="878.6" r="8.2" fill-opacity="0.870"/><circle cx="554.6" cy="879.7" r="8.2" fill-opacity="0.870"/><circle cx="554.6" cy="880.9" r="8.2" fill-opacity="0.870"/><circle cx="577.1" cy="884.7" r="8.2" fill-opacity="0.983"/><circle cx="577.1" cy="885.8" r="8.2" fill-opacity="0.870"/><circle cx="577.1" cy="886.9" r="8.2" fill-opacity="0.870"/><circle cx="577.1" cy="888" r="8.2" fill-opacity="0.870"/><circle cx="599.7" cy="891.8" r="8.2" fill-opacity="0.983"/><circle cx="599.7" cy="893.6" r="8.2" fill-opacity="0.870"/><circle cx="599.7" cy="894.6" r="8.2" fill-opacity="0.640"/><circle cx="620.8" cy="906.1" r="8.2" fill-opacity="0.983"/><circle cx="620.8" cy="907.3" r="8.2" fill-opacity="0.870"/><circle cx="620.8" cy="908.5" r="8.2" fill-opacity="0.870"/><circle cx="620.8" cy="909.7" r="8.2" fill-opacity="0.870"/><circle cx="645" cy="926.9" r="8.2" fill-opacity="0.983"/><circle cx="645" cy="928.2" r="8.2" fill-opacity="0.870"/><circle cx="645" cy="929.5" r="8.2" fill-opacity="0.870"/><circle cx="645" cy="930.8" r="8.2" fill-opacity="0.870"/><circle cx="665.8" cy="943.1" r="8.2" fill-opacity="0.983"/><circle cx="665.8" cy="944.5" r="8.2" fill-opacity="0.870"/><circle cx="665.8" cy="945.9" r="8.2" fill-opacity="0.870"/><circle cx="665.8" cy="947.2" r="8.2" fill-opacity="0.870"/><circle cx="665.8" cy="948.6" r="8.2" fill-opacity="0.870"/><circle cx="665.8" cy="949.8" r="8.2" fill-opacity="0.640"/><circle cx="689.2" cy="952.2" r="8.2" fill-opacity="0.983"/><circle cx="689.2" cy="953.4" r="8.2" fill-opacity="0.870"/><circle cx="689.2" cy="954.6" r="8.2" fill-opacity="0.870"/><circle cx="689.2" cy="955.8" r="8.2" fill-opacity="0.870"/><circle cx="689.2" cy="956.8" r="8.2" fill-opacity="0.640"/><circle cx="710.9" cy="963.6" r="8.2" fill-opacity="0.983"/><circle cx="710.9" cy="964.7" r="8.2" fill-opacity="0.870"/><circle cx="710.9" cy="965.8" r="8.2" fill-opacity="0.870"/><circle cx="710.9" cy="961.8" r="8.2"/><circle cx="710.9" cy="967.8" r="8.2" fill-opacity="0.640"/><circle cx="710.9" cy="969.9" r="8.2"/><circle cx="733.8" cy="970.7" r="8.2" fill-opacity="0.983"/><circle cx="733.8" cy="972" r="8.2" fill-opacity="0.870"/><circle cx="733.8" cy="973.4" r="8.2" fill-opacity="0.870"/><circle cx="733.8" cy="974.7" r="8.2" fill-opacity="0.870"/><circle cx="733.8" cy="968.9" r="8.2"/><circle cx="733.8" cy="977.5" r="8.2" fill-opacity="0.640"/><circle cx="733.8" cy="981.8" r="8.2"/><circle cx="751.5" cy="968.3" r="8.2" fill-opacity="0.983"/><circle cx="751.5" cy="969.6" r="8.2" fill-opacity="0.870"/><circle cx="751.5" cy="970.9" r="8.2" fill-opacity="0.870"/><circle cx="751.5" cy="972.1" r="8.2" fill-opacity="0.870"/><circle cx="751.5" cy="973.4" r="8.2" fill-opacity="0.870"/><circle cx="751.5" cy="974.7" r="8.2" fill-opacity="0.870"/><circle cx="742.5" cy="972.5" r="8.2" fill-opacity="0.784"/><circle cx="828.5" cy="961.4" r="8.2" fill-opacity="0.784"/><circle cx="825" cy="962.6" r="8.2" fill-opacity="0.640"/><circle cx="831" cy="961.2" r="8.2"/><circle cx="755" cy="974.1" r="8.2"/><circle cx="756.2" cy="972.6" r="8.2"/><circle cx="756.8" cy="973.7" r="8.2"/><circle cx="757" cy="971.8" r="8.2"/><circle cx="757.9" cy="973.8" r="8.2"/><circle cx="758.7" cy="973.7" r="8.2"/><circle cx="759.2" cy="974.1" r="8.2"/><circle cx="759.9" cy="972.7" r="8.2"/><circle cx="760.3" cy="968.3" r="8.2"/><circle cx="760.9" cy="970.4" r="8.2"/><circle cx="761.5" cy="973.5" r="8.2"/><circle cx="762.4" cy="972" r="8.2"/><circle cx="763.1" cy="972.3" r="8.2"/><circle cx="763.7" cy="967.8" r="8.2"/><circle cx="764.5" cy="972.6" r="8.2"/><circle cx="765" cy="971.2" r="8.2"/><circle cx="765.7" cy="968.1" r="8.2"/><circle cx="766.4" cy="969.2" r="8.2"/><circle cx="766.6" cy="969.3" r="8.2"/><circle cx="767.7" cy="968.8" r="8.2"/><circle cx="768.3" cy="973.7" r="8.2"/><circle cx="768.8" cy="969.9" r="8.2"/><circle cx="769.5" cy="971.8" r="8.2"/><circle cx="770.3" cy="971.3" r="8.2"/><circle cx="770.8" cy="967.8" r="8.2"/><circle cx="771.2" cy="968.9" r="8.2"/><circle cx="772.2" cy="969.1" r="8.2"/><circle cx="772.7" cy="967.2" r="8.2"/><circle cx="773" cy="968.8" r="8.2"/><circle cx="774.1" cy="971.4" r="8.2"/><circle cx="774.7" cy="968.7" r="8.2"/><circle cx="775.3" cy="969.8" r="8.2"/><circle cx="775.9" cy="967.5" r="8.2"/><circle cx="776.8" cy="967.9" r="8.2"/><circle cx="777.5" cy="972.4" r="8.2"/><circle cx="777.5" cy="969.4" r="8.2"/><circle cx="778.7" cy="972.5" r="8.2"/><circle cx="779.1" cy="968.1" r="8.2"/><circle cx="779.6" cy="972.2" r="8.2"/><circle cx="780.2" cy="969.9" r="8.2"/><circle cx="780.8" cy="969.4" r="8.2"/><circle cx="782" cy="966.9" r="8.2"/><circle cx="782.5" cy="969.1" r="8.2"/><circle cx="783.2" cy="970.2" r="8.2"/><circle cx="783.4" cy="971.4" r="8.2"/><circle cx="784.2" cy="965.9" r="8.2"/><circle cx="784.6" cy="968.8" r="8.2"/><circle cx="785.5" cy="967.5" r="8.2"/><circle cx="785.9" cy="967.7" r="8.2"/><circle cx="786.7" cy="970.6" r="8.2"/><circle cx="787.1" cy="970" r="8.2"/><circle cx="788.3" cy="966" r="8.2"/><circle cx="789" cy="969.5" r="8.2"/><circle cx="789.7" cy="966.9" r="8.2"/><circle cx="790" cy="967.5" r="8.2"/><circle cx="791" cy="968.5" r="8.2"/><circle cx="791.2" cy="967.6" r="8.2"/><circle cx="791.8" cy="965.3" r="8.2"/><circle cx="792.4" cy="969.7" r="8.2"/><circle cx="793.1" cy="970.1" r="8.2"/><circle cx="793.7" cy="966.4" r="8.2"/><circle cx="794.5" cy="965.9" r="8.2"/><circle cx="795.1" cy="969.8" r="8.2"/><circle cx="796.1" cy="968.9" r="8.2"/><circle cx="796.5" cy="969.3" r="8.2"/><circle cx="797.4" cy="967.4" r="8.2"/><circle cx="797.9" cy="965.1" r="8.2"/><circle cx="798.5" cy="966.9" r="8.2"/><circle cx="799.2" cy="967.7" r="8.2"/><circle cx="799.5" cy="965.1" r="8.2"/><circle cx="798.9" cy="965.7" r="8.2"/><circle cx="799.4" cy="966.5" r="8.2"/><circle cx="800.1" cy="967.8" r="8.2"/><circle cx="801.7" cy="966" r="8.2"/><circle cx="802.3" cy="966.1" r="8.2"/><circle cx="803.1" cy="966.3" r="8.2"/><circle cx="803.7" cy="965.6" r="8.2"/><circle cx="804.7" cy="967.7" r="8.2"/><circle cx="805.8" cy="965.6" r="8.2"/><circle cx="807.1" cy="967.6" r="8.2"/><circle cx="807.6" cy="965.3" r="8.2"/><circle cx="808.3" cy="965.2" r="8.2"/><circle cx="809.4" cy="965.1" r="8.2"/><circle cx="810.2" cy="965.5" r="8.2"/><circle cx="811.4" cy="966.7" r="8.2"/><circle cx="812.5" cy="965.6" r="8.2"/><circle cx="813.2" cy="965.8" r="8.2"/><circle cx="814" cy="965.3" r="8.2"/><circle cx="814.7" cy="965.1" r="8.2"/><circle cx="816.4" cy="964.4" r="8.2"/><circle cx="816.9" cy="965.2" r="8.2"/><circle cx="818.2" cy="964.2" r="8.2"/><circle cx="818.6" cy="964.2" r="8.2"/><circle cx="819.6" cy="964.2" r="8.2"/><circle cx="821" cy="964.4" r="8.2"/><circle cx="821.9" cy="963.1" r="8.2"/></g>
<path d="M553.2 849.1C555.2 847.3 561 841.8 565.1 838.4C569.2 835 573.5 831.7 577.7 829C581.9 826.3 586.1 823.8 590.3 822.1C594.5 820.4 598.7 819.6 602.9 818.7C607.1 817.8 611.2 817.4 615.4 816.7C619.6 816.1 623.8 815.4 628 814.8C632.2 814.2 636.4 813.4 640.6 812.9C644.8 812.4 649 812 653.2 811.6C657.4 811.2 661.5 810.9 665.7 810.5C669.9 810.1 674.1 809.8 678.3 809.5C682.5 809.2 686 808.8 690.9 808.6C695.8 808.4 704.8 808.3 707.6 808.2" fill="none" stroke="#0072B2" stroke-width="8.0" stroke-linejoin="round"/>
<rect x="535.8" y="783" width="364.1" height="337.9" fill="none" stroke="#333333" stroke-width="3.8" stroke-linejoin="round"/>
</g>
<g>
<polygon points="1072.1,801.5 1087.4,799.1 1087.4,811.4 1072.1,808.7" fill="#0072B2" fill-opacity="0.55"/>
<polygon points="934.7,842.7 939.4,848.3 936.1,849.5" fill="#0072B2" fill-opacity="0.55"/>
<g fill="#0072B2" fill-opacity="0.4"><circle cx="938.9" cy="856.4" r="8.2" fill-opacity="0.983"/><circle cx="938.9" cy="857.6" r="8.2" fill-opacity="0.870"/><circle cx="938.9" cy="858.8" r="8.2" fill-opacity="0.870"/><circle cx="961.4" cy="862.4" r="8.2" fill-opacity="0.983"/><circle cx="961.4" cy="863.6" r="8.2" fill-opacity="0.870"/><circle cx="961.4" cy="864.8" r="8.2" fill-opacity="0.870"/><circle cx="984.1" cy="868.3" r="8.2" fill-opacity="0.983"/><circle cx="984.1" cy="869.5" r="8.2" fill-opacity="0.870"/><circle cx="984.1" cy="870.7" r="8.2" fill-opacity="0.870"/><circle cx="1005.1" cy="879.9" r="8.2" fill-opacity="0.983"/><circle cx="1005.1" cy="881.1" r="8.2" fill-opacity="0.870"/><circle cx="1005.1" cy="882.3" r="8.2" fill-opacity="0.870"/><circle cx="1029.1" cy="896.4" r="8.2" fill-opacity="0.983"/><circle cx="1029.1" cy="897.6" r="8.2" fill-opacity="0.870"/><circle cx="1029.1" cy="898.8" r="8.2" fill-opacity="0.870"/><circle cx="1049.9" cy="903.1" r="8.2" fill-opacity="0.983"/><circle cx="1049.9" cy="904.3" r="8.2" fill-opacity="0.870"/><circle cx="1049.9" cy="905.5" r="8.2" fill-opacity="0.870"/><circle cx="1073.3" cy="907.1" r="8.2" fill-opacity="0.983"/><circle cx="1073.3" cy="908.4" r="8.2" fill-opacity="0.870"/><circle cx="1073.3" cy="909.8" r="8.2" fill-opacity="0.870"/><circle cx="1073.3" cy="911.1" r="8.2" fill-opacity="0.870"/><circle cx="1094.9" cy="908.9" r="8.2" fill-opacity="0.983"/><circle cx="1094.9" cy="910.4" r="8.2" fill-opacity="0.870"/><circle cx="1094.9" cy="911.8" r="8.2" fill-opacity="0.870"/><circle cx="1094.9" cy="913.3" r="8.2" fill-opacity="0.870"/><circle cx="1116.8" cy="908.9" r="8.2" fill-opacity="0.983"/><circle cx="1116.8" cy="910.2" r="8.2" fill-opacity="0.870"/><circle cx="1116.8" cy="911.5" r="8.2" fill-opacity="0.870"/><circle cx="1116.8" cy="912.7" r="8.2" fill-opacity="0.870"/><circle cx="1116.8" cy="914" r="8.2" fill-opacity="0.870"/><circle cx="1116.8" cy="915.3" r="8.2" fill-opacity="0.870"/><circle cx="1109.1" cy="910.3" r="8.2"/><circle cx="1125" cy="911.5" r="8.2" fill-opacity="0.870"/><circle cx="1181.9" cy="904.4" r="8.2" fill-opacity="0.640"/><circle cx="1185" cy="903" r="8.2"/><circle cx="1191.4" cy="900.2" r="8.2"/><circle cx="1198.6" cy="899.8" r="8.2"/><circle cx="1200.4" cy="899.4" r="8.2"/><circle cx="1126" cy="910.6" r="8.2"/><circle cx="1127.3" cy="909.6" r="8.2"/><circle cx="1127.8" cy="907.5" r="8.2"/><circle cx="1128.3" cy="911.6" r="8.2"/><circle cx="1129.3" cy="911.2" r="8.2"/><circle cx="1130.1" cy="908.6" r="8.2"/><circle cx="1130.2" cy="908.2" r="8.2"/><circle cx="1131.1" cy="910.5" r="8.2"/><circle cx="1132.1" cy="910.6" r="8.2"/><circle cx="1132.6" cy="910.8" r="8.2"/><circle cx="1133.1" cy="909.9" r="8.2"/><circle cx="1133.5" cy="910.9" r="8.2"/><circle cx="1134.3" cy="911.3" r="8.2"/><circle cx="1135.3" cy="908.6" r="8.2"/><circle cx="1135.6" cy="908.4" r="8.2"/><circle cx="1136.6" cy="910.1" r="8.2"/><circle cx="1137" cy="907.4" r="8.2"/><circle cx="1137.9" cy="909.4" r="8.2"/><circle cx="1138.5" cy="907.8" r="8.2"/><circle cx="1139.3" cy="906.9" r="8.2"/><circle cx="1139.8" cy="908.6" r="8.2"/><circle cx="1140.9" cy="909.2" r="8.2"/><circle cx="1141.6" cy="908.5" r="8.2"/><circle cx="1141.8" cy="907.5" r="8.2"/><circle cx="1143" cy="909.2" r="8.2"/><circle cx="1143.2" cy="906.4" r="8.2"/><circle cx="1144" cy="908.9" r="8.2"/><circle cx="1144.6" cy="907.2" r="8.2"/><circle cx="1145.5" cy="909.7" r="8.2"/><circle cx="1145.9" cy="906.1" r="8.2"/><circle cx="1146.6" cy="907.5" r="8.2"/><circle cx="1147.5" cy="906.5" r="8.2"/><circle cx="1148.3" cy="908.5" r="8.2"/><circle cx="1148.8" cy="906.4" r="8.2"/><circle cx="1149.8" cy="906.7" r="8.2"/><circle cx="1150.4" cy="906.3" r="8.2"/><circle cx="1150.6" cy="908.3" r="8.2"/><circle cx="1151.4" cy="908.9" r="8.2"/><circle cx="1152.2" cy="905.9" r="8.2"/><circle cx="1152.7" cy="906.7" r="8.2"/><circle cx="1153.7" cy="908.5" r="8.2"/><circle cx="1154" cy="906.4" r="8.2"/><circle cx="1154.7" cy="908.5" r="8.2"/><circle cx="1155.3" cy="904.9" r="8.2"/><circle cx="1156" cy="906.1" r="8.2"/><circle cx="1157.2" cy="907.7" r="8.2"/><circle cx="1157.8" cy="908" r="8.2"/><circle cx="1158.6" cy="905.4" r="8.2"/><circle cx="1158.8" cy="907.6" r="8.2"/><circle cx="1159.8" cy="904.1" r="8.2"/><circle cx="1158.5" cy="905.6" r="8.2"/><circle cx="1158.9" cy="905.4" r="8.2"/><circle cx="1159.5" cy="904.1" r="8.2"/><circle cx="1160.2" cy="905.2" r="8.2"/><circle cx="1161.4" cy="904.2" r="8.2"/><circle cx="1162.1" cy="904.4" r="8.2"/><circle cx="1162.3" cy="906.4" r="8.2"/><circle cx="1163.3" cy="905" r="8.2"/><circle cx="1163.5" cy="905.1" r="8.2"/><circle cx="1164.4" cy="906.3" r="8.2"/><circle cx="1165" cy="904.5" r="8.2"/><circle cx="1166.1" cy="903.2" r="8.2"/><circle cx="1166.5" cy="905.6" r="8.2"/><circle cx="1167.4" cy="903.1" r="8.2"/><circle cx="1167.6" cy="903.1" r="8.2"/><circle cx="1168.9" cy="903.5" r="8.2"/><circle cx="1169.4" cy="905.3" r="8.2"/><circle cx="1169.8" cy="903.4" r="8.2"/><circle cx="1171" cy="904.2" r="8.2"/><circle cx="1171.2" cy="904.4" r="8.2"/><circle cx="1171.9" cy="903.1" r="8.2"/><circle cx="1172.4" cy="904.4" r="8.2"/><circle cx="1173.7" cy="903.9" r="8.2"/><circle cx="1174.4" cy="902.3" r="8.2"/><circle cx="1174.6" cy="903.4" r="8.2"/><circle cx="1175.7" cy="904.5" r="8.2"/><circle cx="1176" cy="902.7" r="8.2"/><circle cx="1176.7" cy="903.3" r="8.2"/><circle cx="1177.8" cy="902.4" r="8.2"/><circle cx="1178.4" cy="903.7" r="8.2"/></g>
<path d="M937.3 844.7C939.4 842.8 945.9 836.9 950.1 833.4C954.3 829.9 958.5 826.6 962.7 823.9C966.9 821.2 971.1 818.7 975.3 817C979.5 815.3 983.7 814.7 987.9 813.9C992.1 813.1 996.2 812.6 1000.4 812C1004.6 811.4 1008.8 810.7 1013 810.1C1017.2 809.5 1021.4 809 1025.6 808.6C1029.8 808.2 1034 807.9 1038.2 807.6C1042.4 807.3 1046.5 807 1050.7 806.7C1054.9 806.4 1059.1 806 1063.3 805.7C1067.5 805.4 1071.9 804.9 1075.9 804.8C1079.9 804.7 1085.3 805 1087.2 805.1" fill="none" stroke="#0072B2" stroke-width="8.0" stroke-linejoin="round"/>
<rect x="919.5" y="783" width="364.1" height="337.9" fill="none" stroke="#333333" stroke-width="3.8" stroke-linejoin="round"/>
</g>
<rect x="152.1" y="2.1" width="364.1" height="66.8" fill="#D9D9D9" stroke="#333333" stroke-width="3.8" stroke-linejoin="round"/>
<text x="334.1" y="44.0" font-size="31.06" fill="#1A1A1A" stroke="#1A1A1A" stroke-width="0.4" letter-spacing="0" text-anchor="middle">E<tspan font-size="21.7" dy="5.7">i</tspan><tspan dy="-5.7" dx="-1.93"> : </tspan><tspan dx="4.97">low</tspan></text>
<rect x="535.8" y="2.1" width="364.1" height="66.8" fill="#D9D9D9" stroke="#333333" stroke-width="3.8" stroke-linejoin="round"/>
<text x="717.8" y="44.0" font-size="31.06" fill="#1A1A1A" stroke="#1A1A1A" stroke-width="0.4" letter-spacing="0.2" text-anchor="middle">E<tspan font-size="21.7" dy="5.7">i</tspan><tspan dy="-5.7" dx="-1.93"> : </tspan><tspan dx="4.97">medium</tspan></text>
<rect x="919.5" y="2.1" width="364.1" height="66.8" fill="#D9D9D9" stroke="#333333" stroke-width="3.8" stroke-linejoin="round"/>
<text x="1101.5" y="44.0" font-size="31.06" fill="#1A1A1A" stroke="#1A1A1A" stroke-width="0.4" letter-spacing="0.2" text-anchor="middle">E<tspan font-size="21.7" dy="5.7">i</tspan><tspan dy="-5.7" dx="-1.93"> : </tspan><tspan dx="4.97">high</tspan></text>
<rect x="1283.6" y="68.9" width="66.4" height="337.9" fill="#D9D9D9" stroke="#333333" stroke-width="3.8" stroke-linejoin="round"/>
<text transform="translate(1307.6 237.9) rotate(90)" font-size="31.06" fill="#1A1A1A" stroke="#1A1A1A" stroke-width="0.4" text-anchor="middle">1D trait space</text>
<rect x="1283.6" y="426" width="66.4" height="337.9" fill="#D9D9D9" stroke="#333333" stroke-width="3.8" stroke-linejoin="round"/>
<text transform="translate(1307.6 595.1) rotate(90)" font-size="31.06" fill="#1A1A1A" stroke="#1A1A1A" stroke-width="0.4" text-anchor="middle">2D trait space</text>
<rect x="1283.6" y="783" width="66.4" height="337.9" fill="#D9D9D9" stroke="#333333" stroke-width="3.8" stroke-linejoin="round"/>
<text transform="translate(1307.6 952.1) rotate(90)" font-size="31.06" fill="#1A1A1A" stroke="#1A1A1A" stroke-width="0.4" text-anchor="middle">3D trait space</text>
<g stroke="#333333" stroke-width="3.9">
<line x1="142.1" y1="159.8" x2="150.2" y2="159.8"/>
<line x1="142.1" y1="249" x2="150.2" y2="249"/>
<line x1="142.1" y1="401.1" x2="150.2" y2="401.1"/>
<line x1="142.1" y1="435.9" x2="150.2" y2="435.9"/>
<line x1="142.1" y1="595.5" x2="150.2" y2="595.5"/>
<line x1="142.1" y1="755" x2="150.2" y2="755"/>
<line x1="142.1" y1="808.9" x2="150.2" y2="808.9"/>
<line x1="142.1" y1="912.8" x2="150.2" y2="912.8"/>
<line x1="142.1" y1="1016.8" x2="150.2" y2="1016.8"/>
<line x1="142.1" y1="1120.7" x2="150.2" y2="1120.7"/>
<line x1="216.4" y1="1122.8" x2="216.4" y2="1130.9"/>
<line x1="306.6" y1="1122.8" x2="306.6" y2="1130.9"/>
<line x1="396.8" y1="1122.8" x2="396.8" y2="1130.9"/>
<line x1="487" y1="1122.8" x2="487" y2="1130.9"/>
<line x1="600.1" y1="1122.8" x2="600.1" y2="1130.9"/>
<line x1="690.3" y1="1122.8" x2="690.3" y2="1130.9"/>
<line x1="780.5" y1="1122.8" x2="780.5" y2="1130.9"/>
<line x1="870.7" y1="1122.8" x2="870.7" y2="1130.9"/>
<line x1="983.8" y1="1122.8" x2="983.8" y2="1130.9"/>
<line x1="1074" y1="1122.8" x2="1074" y2="1130.9"/>
<line x1="1164.2" y1="1122.8" x2="1164.2" y2="1130.9"/>
<line x1="1254.4" y1="1122.8" x2="1254.4" y2="1130.9"/>
</g>
<g font-size="31.06" fill="#4D4D4D" stroke="#4D4D4D" stroke-width="0.4" letter-spacing="0.1">
<text x="134.9" y="170.9" text-anchor="end">0.3</text>
<text x="134.9" y="260.1" text-anchor="end">0.2</text>
<text x="134.9" y="412.2" text-anchor="end">0.1</text>
<text x="134.9" y="447" text-anchor="end">0.100</text>
<text x="134.9" y="606.6" text-anchor="end">0.010</text>
<text x="134.9" y="766.1" text-anchor="end">0.001</text>
<text x="134.9" y="820" text-anchor="end">1e<tspan dx="-1.8" textLength="21.7" lengthAdjust="spacingAndGlyphs">-</tspan><tspan dx="-1.8">02</tspan></text>
<text x="134.9" y="923.9" text-anchor="end">1e<tspan dx="-1.8" textLength="21.7" lengthAdjust="spacingAndGlyphs">-</tspan><tspan dx="-1.8">03</tspan></text>
<text x="134.9" y="1027.9" text-anchor="end">1e<tspan dx="-1.8" textLength="21.7" lengthAdjust="spacingAndGlyphs">-</tspan><tspan dx="-1.8">04</tspan></text>
<text x="134.9" y="1131.8" text-anchor="end">1e<tspan dx="-1.8" textLength="21.7" lengthAdjust="spacingAndGlyphs">-</tspan><tspan dx="-1.8">05</tspan></text>
<text x="216.4" y="1161" text-anchor="middle">4</text>
<text x="306.6" y="1161" text-anchor="middle">8</text>
<text x="396.8" y="1161" text-anchor="middle">12</text>
<text x="487" y="1161" text-anchor="middle">16</text>
<text x="600.1" y="1161" text-anchor="middle">4</text>
<text x="690.3" y="1161" text-anchor="middle">8</text>
<text x="780.5" y="1161" text-anchor="middle">12</text>
<text x="870.7" y="1161" text-anchor="middle">16</text>
<text x="983.8" y="1161" text-anchor="middle">4</text>
<text x="1074" y="1161" text-anchor="middle">8</text>
<text x="1164.2" y="1161" text-anchor="middle">12</text>
<text x="1254.4" y="1161" text-anchor="middle">16</text>
</g>
<text x="576.6" y="1205.1" font-size="38.8" fill="#000" stroke="#000" stroke-width="0.6" letter-spacing="-0.2">species diversity</text>
<text transform="translate(28.1 753.3) rotate(-90)" font-size="38.8" fill="#000" stroke="#000" stroke-width="0.6" letter-spacing="-0.2">functional diversity</text>
<text x="345.5" y="1315.1" font-size="38.8" fill="#000" stroke="#000" stroke-width="0.6" letter-spacing="-0.08">competition width</text>
<rect x="662.8" y="1271" width="61" height="61" fill="#E69F00"/>
<text x="741.7" y="1312.7" font-size="31.06" fill="#000" stroke="#000" stroke-width="0.4" letter-spacing="0.1">0.1</text>
<rect x="805.3" y="1271" width="61" height="61" fill="#CC79A7"/>
<text x="885.6" y="1312.7" font-size="31.06" fill="#000" stroke="#000" stroke-width="0.4" letter-spacing="0.1">0.25</text>
<rect x="966" y="1271" width="61" height="61" fill="#0072B2"/>
<text x="1045.6" y="1312.7" font-size="31.06" fill="#000" stroke="#000" stroke-width="0.4" letter-spacing="0.1">0.4</text>
</svg>
</body>
</html>
